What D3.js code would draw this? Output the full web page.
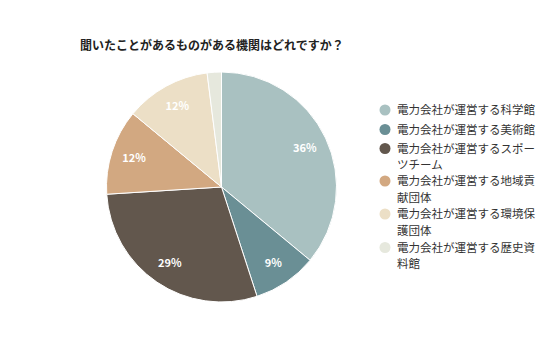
<!DOCTYPE html>
<html><head><meta charset="utf-8">
<script src="https://cdn.jsdelivr.net/npm/d3@7"></script>
<style>html,body{margin:0;padding:0;background:#fff;}svg{display:block;font-family:"Noto Sans CJK JP","Noto Sans",sans-serif;}</style>
</head><body>
<svg id="c" width="536" height="357"></svg>
<script>
const title = "聞いたことがあるものがある機関はどれですか？";
const categories = ["電力会社が運営する科学館","電力会社が運営する美術館","電力会社が運営するスポーツチーム","電力会社が運営する地域貢献団体","電力会社が運営する環境保護団体","電力会社が運営する歴史資料館"];
const values = [36, 9, 29, 12, 12, 2];
const colors = ["#a9c1c1","#6a8f95","#62574d","#d2a881","#ecdfc6","#e6e8dd"];
const legendLines = [["電力会社が運営する科学館"],["電力会社が運営する美術館"],["電力会社が運営するスポー","ツチーム"],["電力会社が運営する地域貢","献団体"],["電力会社が運営する環境保","護団体"],["電力会社が運営する歴史資","料館"]];

const svg = d3.select("#c");
svg.append("text").attr("x",80).attr("y",50).attr("font-size",12).attr("font-weight","bold").attr("fill","#222").text(title);

const cx = 221.5, cy = 187, r = 115;
const data = categories.map((c,i)=>({cat:c, value:values[i], color:colors[i]}));
const pie = d3.pie().sort(null).value(d=>d.value);
const arc = d3.arc().innerRadius(0).outerRadius(r);
const labelArc = d3.arc().innerRadius(92).outerRadius(92);
const g = svg.append("g").attr("transform",`translate(${cx},${cy})`);
const arcs = pie(data);
g.selectAll("path").data(arcs).join("path").attr("d",arc).attr("fill",d=>d.data.color).attr("stroke","#fff").attr("stroke-width",1);
g.selectAll("text").data(arcs.filter(d=>d.data.value>=5)).join("text")
  .attr("transform",d=>`translate(${labelArc.centroid(d)})`)
  .attr("text-anchor","middle").attr("dy","0.35em").attr("font-size",11).attr("font-weight","bold").attr("fill","#fff")
  .text(d=>d.data.value+"%");

const legendY = [110,129.5,148.5,181,214,247.5];
const lg = svg.append("g");
data.forEach((d,i)=>{
  const y = legendY[i];
  lg.append("circle").attr("cx",385).attr("cy",y).attr("r",5.5).attr("fill",d.color);
  const t = lg.append("text").attr("x",397).attr("y",y).attr("font-size",11.5).attr("fill","#333");
  legendLines[i].forEach((ln,j)=>{
    t.append("tspan").attr("x",397).attr("dy", j===0?"0.36em":"16.5").text(ln);
  });
});
</script>
</body></html>
